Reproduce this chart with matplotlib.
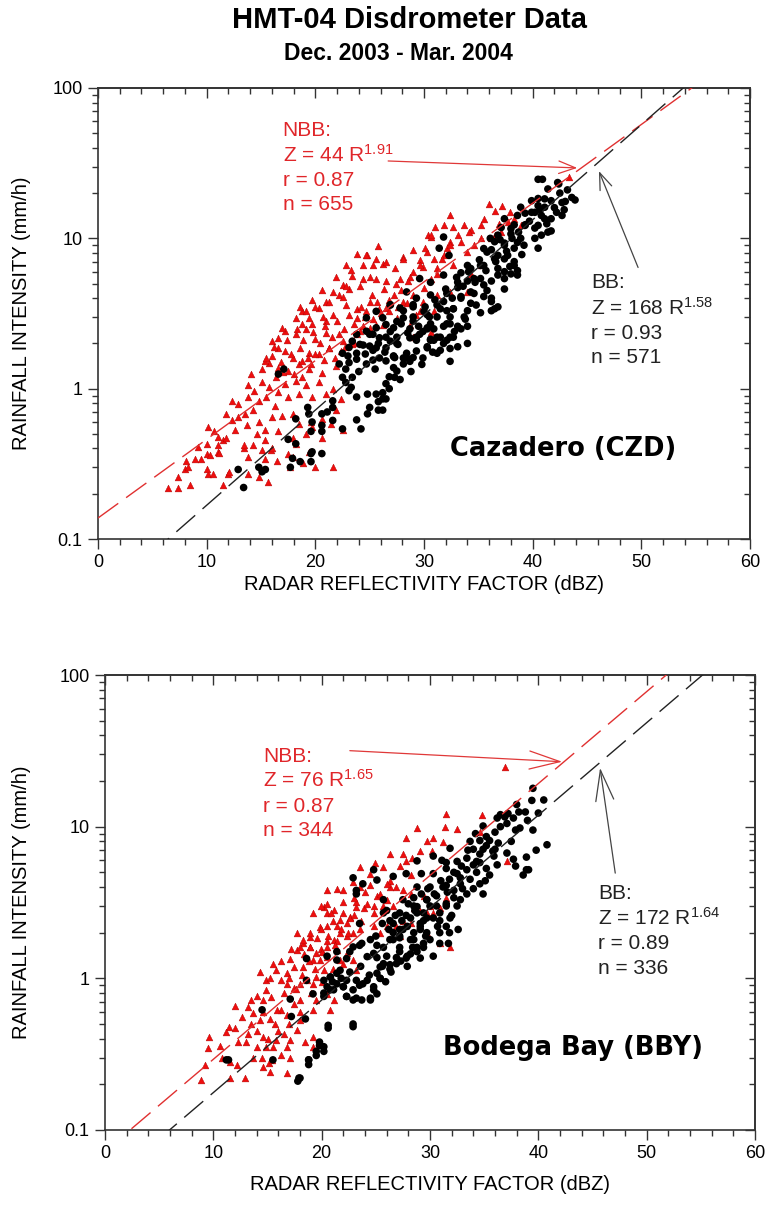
import numpy as np
import matplotlib
matplotlib.use('Agg')
import matplotlib.pyplot as plt
from matplotlib.ticker import MultipleLocator, LogLocator, FuncFormatter, NullFormatter

"""
HMT-04 disdrometer data, Dec. 2003 - Mar. 2004.
Rain rate against radar reflectivity for Cazadero (CZD) and Bodega Bay (BBY),
split into non-bright-band (NBB, red triangles) and bright-band (BB, black dots)
periods, each with its fitted Z-R power law.
"""

# (dBZ, rain rate mm/h) pairs
czd_nbb = [
    (6.4, 0.22), (7.4, 0.22), (8.5, 0.23), (11.5, 0.23), (15.6, 0.24),
    (7.4, 0.26), (10.1, 0.27), (10.6, 0.27), (12.0, 0.27), (13.8, 0.27), (14.8, 0.26),
    (8.0, 0.29), (8.3, 0.30), (10.0, 0.29), (12.1, 0.28), (16.5, 0.33), (17.7, 0.30),
    (20.0, 0.30), (21.6, 0.30), (8.1, 0.33), (8.9, 0.34), (9.5, 0.34), (11.0, 0.38),
    (13.8, 0.35), (15.4, 0.34), (17.9, 0.35), (18.9, 0.32), (10.0, 0.37), (10.3, 0.36),
    (11.1, 0.375), (13.4, 0.40), (15.1, 0.39), (15.9, 0.39), (17.5, 0.37), (19.4, 0.38),
    (9.2, 0.41), (10.0, 0.43), (11.0, 0.42), (11.5, 0.455), (13.4, 0.42), (14.3, 0.42),
    (15.4, 0.455), (16.0, 0.40), (18.2, 0.43), (20.6, 0.47),
    (10.1, 0.56), (10.7, 0.52), (11.0, 0.48), (11.8, 0.47), (12.6, 0.53), (13.7, 0.57),
    (14.6, 0.50), (15.4, 0.53), (16.6, 0.52), (17.9, 0.47), (19.1, 0.50), (19.7, 0.56),
    (21.4, 0.585), (22.5, 0.53), (11.8, 0.68), (12.3, 0.615), (12.9, 0.65), (13.5, 0.68),
    (14.3, 0.72), (14.8, 0.60), (16.0, 0.65), (16.9, 0.66), (17.9, 0.68), (18.5, 0.585),
    (19.6, 0.60), (20.6, 0.63), (21.9, 0.72), (12.3, 0.83), (12.9, 0.79), (13.8, 0.88),
    (14.8, 0.83), (15.5, 0.88), (16.3, 0.77), (17.5, 0.88), (18.5, 0.92), (19.7, 0.88),
    (21.0, 0.92), (22.4, 0.855), (13.8, 1.05), (14.4, 0.97), (15.1, 1.10), (15.7, 1.02),
    (16.6, 0.95), (17.2, 1.07), (18.2, 1.13), (19.1, 1.05), (20.3, 1.10), (21.6, 1.0),
    (14.1, 1.25), (15.1, 1.35), (15.7, 1.49), (16.6, 1.38), (17.5, 1.32), (18.5, 1.46),
    (19.4, 1.35), (20.6, 1.28), (21.9, 1.42), (16.0, 1.65), (16.6, 1.87), (17.2, 1.78),
    (17.9, 1.61), (18.6, 1.87), (19.4, 1.74), (20.3, 1.69), (21.3, 1.87), (22.4, 1.78),
    (23.4, 1.97), (16.6, 2.18), (17.2, 2.41), (18.2, 2.30), (19.1, 2.48), (20.0, 2.13),
    (21.0, 2.35), (22.2, 2.30), (24.1, 2.41), (18.8, 3.27), (19.4, 2.96), (20.3, 3.44),
    (21.0, 2.81), (21.6, 3.11), (22.8, 3.62), (23.8, 2.96), (24.7, 3.27), (25.6, 2.67),
    (26.5, 3.44),
    (25.8, 8.9), (23.8, 7.9), (24.8, 7.7), (25.6, 7.3), (26.2, 6.8), (22.8, 6.6),
    (21.9, 5.5), (23.4, 5.6), (22.5, 4.9), (20.6, 4.5), (21.6, 4.4), (22.2, 4.2),
    (23.1, 4.6), (18.6, 3.5), (19.7, 3.9), (21.0, 3.8), (24.4, 6.6), (25.0, 5.5),
    (28.7, 5.5), (29.6, 7.2), (30.3, 8.1), (30.4, 10.5),
    (32.4, 14.2), (31.0, 11.9), (32.7, 11.9), (30.6, 10.2), (29.0, 8.3), (28.1, 7.5),
    (24.7, 7.7), (26.5, 7.0), (27.3, 6.3), (25.3, 6.6), (23.3, 6.2), (24.4, 5.4),
    (25.6, 5.4), (22.8, 4.8), (24.1, 4.8), (26.5, 5.2), (27.8, 5.4), (29.0, 6.0),
    (31.2, 6.3), (31.8, 7.7), (32.4, 9.5), (33.1, 10.5), (21.3, 3.8), (22.5, 4.1),
    (20.0, 3.5), (19.1, 3.3), (18.2, 2.96), (16.9, 2.54), (16.0, 2.07), (15.4, 1.53),
    (18.8, 2.7), (19.7, 2.7), (20.7, 3.0), (23.8, 3.4), (25.0, 3.8), (25.9, 3.4),
    (27.2, 4.2), (28.1, 3.8), (29.0, 4.2), (30.0, 4.7), (30.6, 5.4), (27.5, 2.96),
    (26.2, 2.67), (25.0, 2.54), (23.8, 2.3), (22.5, 2.07), (21.3, 1.87), (20.0, 1.69),
    (18.8, 1.53), (28.7, 2.67), (29.6, 3.27),
    (36.0, 16.9), (37.2, 16.5), (36.5, 15.3), (37.9, 14.9), (37.7, 12.8), (36.9, 12.5),
    (35.5, 13.5), (34.3, 11.3), (35.2, 10.0), (36.5, 10.5), (33.4, 9.5), (32.1, 8.6),
    (30.1, 8.6), (34.0, 8.1), (31.7, 7.3), (32.7, 6.6), (29.9, 6.4), (31.2, 5.8),
    (34.3, 5.8), (35.2, 6.6), (33.1, 5.2), (34.0, 4.4), (31.2, 4.2), (32.4, 4.4),
    (29.9, 3.8), (30.9, 3.3), (29.3, 3.1), (30.6, 2.4), (29.0, 2.2),
    (31.8, 12.2), (30.6, 10.5), (33.7, 12.2), (34.1, 11.0), (35.2, 12.2), (38.3, 13.5),
    (38.9, 12.2), (37.1, 11.0), (36.2, 10.0), (34.6, 9.0), (32.4, 9.0), (30.9, 7.3),
    (29.6, 6.6), (28.1, 7.3), (43.3, 25.4),
    (15.5, 1.6), (16.2, 1.9), (16.8, 1.5), (17.4, 2.1), (17.8, 1.7), (18.3, 2.5),
    (18.9, 2.1), (19.3, 1.6), (19.8, 2.4), (20.4, 2.0), (20.9, 2.6), (21.5, 2.2),
    (22.0, 2.8), (22.6, 2.5), (23.1, 3.1), (23.6, 2.7), (24.2, 3.5), (24.6, 3.0),
    (25.2, 4.2), (25.7, 3.8), (26.3, 4.6), (26.8, 3.9), (27.4, 5.0), (27.9, 4.5),
    (28.5, 5.2), (16.4, 1.2), (17.0, 1.3), (18.0, 1.25), (18.8, 1.2), (19.6, 1.45),
    (20.8, 1.55), (21.8, 1.6), (22.7, 1.9), (23.6, 2.0), (24.4, 2.6), (25.3, 2.9),
    (26.0, 3.2), (26.8, 3.3), (27.6, 3.5), (28.4, 3.7),
]

czd_bb = [
    (13.4, 0.22), (12.9, 0.29), (14.8, 0.30), (15.4, 0.29), (15.1, 0.28), (17.7, 0.30),
    (17.9, 0.344), (18.6, 0.327), (19.6, 0.327), (19.6, 0.37), (19.7, 0.38), (20.6, 0.37),
    (17.5, 0.46), (18.2, 0.43), (18.2, 0.63), (19.3, 0.75), (19.4, 0.68), (19.7, 0.60),
    (19.6, 0.52), (20.6, 0.52), (20.6, 0.57), (20.6, 0.68), (21.6, 0.615), (21.6, 0.75),
    (21.6, 0.83), (21.1, 0.70), (22.5, 0.54), (24.2, 0.54), (25.0, 0.75), (25.8, 0.72),
    (26.2, 0.72), (26.2, 0.855), (26.5, 0.855), (25.6, 0.92), (24.8, 0.92), (23.8, 0.88),
    (23.1, 0.97), (22.8, 1.10), (23.3, 1.02), (23.4, 1.19), (22.5, 1.19), (22.8, 1.35),
    (23.1, 1.49), (22.2, 1.46), (23.0, 1.65), (23.8, 1.57), (24.7, 1.46), (25.5, 1.35),
    (26.5, 1.53), (27.2, 1.38), (27.3, 1.19), (28.1, 1.46), (29.0, 1.61), (28.4, 1.61),
    (27.3, 1.61), (26.5, 1.87), (25.6, 1.87), (25.0, 1.92), (24.1, 1.97), (25.0, 2.30),
    (25.9, 2.18), (26.9, 2.07), (27.6, 1.97), (28.7, 2.18), (29.6, 2.30), (30.3, 1.87),
    (30.6, 2.13), (29.0, 2.81), (28.1, 2.96), (27.2, 2.54), (26.5, 2.67), (25.6, 2.54),
    (24.7, 2.41), (23.8, 2.30), (23.4, 2.07), (24.7, 2.96), (25.6, 3.27), (26.9, 3.62),
    (27.8, 3.44), (29.0, 3.62), (30.0, 3.27), (30.3, 2.54), (17.1, 1.35), (16.6, 1.25),
    (40.5, 24.7), (40.9, 24.7), (42.4, 23.0), (41.4, 21.3), (43.6, 18.7), (43.9, 18.0),
    (43.0, 17.6), (41.7, 17.8), (40.5, 18.4), (41.1, 16.1), (39.9, 14.9), (40.8, 14.2),
    (41.7, 13.5), (38.6, 14.2), (39.3, 12.2), (40.5, 12.2), (41.4, 11.0), (40.8, 10.5),
    (38.0, 11.6), (36.8, 10.5), (37.4, 9.0), (38.6, 9.4), (36.1, 10.0), (35.5, 8.55),
    (36.5, 7.3), (37.7, 7.7), (38.3, 6.6), (38.0, 5.8), (37.4, 6.0), (38.6, 6.1),
    (35.2, 6.6), (34.0, 6.6), (33.4, 5.9), (34.6, 5.4), (35.5, 4.9), (36.2, 4.0),
    (36.5, 3.4), (34.3, 4.4), (33.4, 4.0), (32.7, 3.4), (34.0, 3.3), (33.7, 3.0),
    (32.4, 3.0), (31.8, 2.6), (34.0, 2.6), (33.4, 2.5), (32.7, 2.2), (31.5, 2.2),
    (30.3, 2.5), (30.9, 2.1), (29.3, 1.78), (28.1, 1.6), (28.7, 1.52), (27.2, 1.64),
    (27.5, 1.31), (26.5, 1.08), (26.8, 1.20), (26.2, 0.94),
    (42.3, 23.5), (41.1, 18.3), (39.9, 17.8), (38.9, 16.1), (40.5, 16.5), (42.7, 17.3),
    (39.3, 14.7), (40.2, 14.9), (41.1, 13.5), (42.2, 14.9), (42.7, 14.2), (37.4, 13.5),
    (38.3, 12.3), (39.3, 12.3), (40.2, 11.7), (41.7, 11.2), (37.1, 11.8), (38.0, 10.7),
    (38.9, 10.0), (36.5, 9.5), (37.4, 9.3), (38.3, 8.6), (40.5, 8.6), (35.8, 8.1),
    (36.8, 7.7), (37.4, 7.3), (38.3, 7.0), (36.8, 6.3), (35.5, 6.6), (34.3, 6.3),
    (35.2, 5.4), (36.2, 5.2), (37.4, 5.4), (38.6, 5.7), (37.4, 4.6), (34.0, 5.2),
    (33.1, 4.7), (32.1, 4.3), (33.4, 4.1), (34.6, 4.3), (35.5, 4.1), (36.2, 3.8),
    (36.8, 3.5), (31.8, 3.8), (32.7, 3.4), (34.3, 3.7), (35.2, 3.2), (36.2, 3.3),
    (31.2, 3.0), (30.6, 2.7), (32.1, 2.7), (33.1, 2.6), (29.9, 2.4), (31.2, 2.2),
    (32.1, 2.1), (34.0, 2.0), (29.3, 2.1), (30.3, 1.9), (31.5, 1.8), (32.4, 1.85),
    (31.8, 10.2), (31.4, 8.6), (32.3, 7.7), (29.6, 5.4), (30.6, 5.1), (31.8, 5.7),
    (33.1, 5.1), (28.4, 4.4), (29.3, 4.0), (30.6, 4.2), (26.9, 3.6), (28.1, 3.3),
    (29.0, 3.5), (31.2, 3.6), (32.1, 3.3), (30.3, 3.1), (26.2, 2.96), (27.5, 2.8),
    (28.7, 2.5), (30.9, 2.5), (32.4, 2.7), (25.3, 2.3), (26.5, 2.2), (27.5, 2.0),
    (29.3, 2.2), (30.6, 2.1), (32.4, 2.2), (33.1, 1.9), (24.4, 1.95), (23.8, 1.72),
    (25.3, 1.8), (25.9, 1.6), (27.2, 1.65), (28.4, 1.72), (29.9, 1.6), (31.2, 1.72),
    (32.4, 1.52), (22.5, 1.72), (23.1, 1.88),
    (24.0, 1.3), (24.6, 1.7), (25.3, 1.55), (25.8, 2.0), (26.4, 1.75), (26.9, 2.4),
    (27.5, 2.2), (27.9, 2.7), (28.5, 2.35), (29.0, 3.0), (29.5, 2.6), (30.1, 3.5),
    (30.5, 3.0), (31.0, 3.9), (31.5, 3.4), (32.0, 4.6), (32.6, 4.0), (33.0, 5.5),
    (33.6, 4.8), (34.1, 6.0), (34.7, 5.1), (35.1, 7.2), (35.7, 6.1), (36.2, 8.4),
    (36.6, 7.0), (37.0, 9.8), (37.6, 8.2), (38.1, 10.0), (38.7, 11.0), (39.2, 9.0),
    (39.7, 13.0), (40.2, 10.0), (40.7, 15.5), (41.3, 12.5), (42.0, 16.0), (42.5, 20.0),
    (43.2, 21.0), (42.9, 15.5), (39.0, 7.8), (37.9, 6.5), (36.8, 5.7), (35.8, 4.5),
    (34.8, 3.6), (33.8, 2.9), (32.8, 2.4), (31.8, 2.0), (30.8, 1.75), (29.8, 1.45),
    (28.8, 1.3), (27.8, 1.15), (26.8, 1.0), (25.8, 0.82), (24.8, 0.68), (23.8, 0.62),
]

bby_nbb = [
    (8.9, 0.213), (9.2, 0.268), (9.6, 0.41), (9.5, 0.345), (10.6, 0.36), (10.8, 0.30),
    (11.4, 0.48), (11.2, 0.44), (12.0, 0.47), (12.3, 0.38), (11.5, 0.28), (12.2, 0.27),
    (11.5, 0.22), (12.9, 0.22), (12.0, 0.66), (12.6, 0.56),
    (13.2, 0.65), (13.5, 0.72), (14.0, 0.76), (13.7, 0.59), (13.5, 0.50), (13.2, 0.43),
    (14.3, 0.53), (14.6, 0.41), (14.9, 0.354), (14.0, 0.354), (14.5, 0.30), (13.7, 0.30),
    (15.1, 0.275), (14.6, 0.26), (15.4, 0.29), (15.2, 0.24), (16.8, 0.236), (16.2, 0.31),
    (17.1, 0.30), (15.5, 0.354), (16.5, 0.43), (15.8, 0.39), (15.7, 0.50), (15.2, 0.54),
    (16.2, 0.62), (16.8, 0.57), (14.9, 0.84), (14.6, 0.72), (14.3, 1.10), (14.9, 0.97),
    (15.5, 1.25), (15.8, 1.13), (16.2, 0.97), (16.8, 1.08), (16.8, 0.92), (17.4, 0.86),
    (18.0, 0.92), (17.1, 1.35), (17.4, 1.19), (18.3, 1.19), (17.7, 1.53), (18.3, 1.70),
    (18.9, 1.88), (18.9, 1.61), (19.5, 1.46), (19.8, 1.32), (19.2, 1.32), (18.6, 0.97),
    (19.2, 0.92), (19.5, 1.02), (20.2, 1.13), (20.5, 1.39), (20.5, 1.61), (21.1, 1.79),
    (21.7, 1.98), (19.8, 2.19), (20.5, 2.68), (21.1, 2.82), (20.2, 2.97), (21.7, 2.42),
    (22.3, 2.30), (22.9, 1.98), (22.6, 2.55), (23.2, 2.97), (21.4, 1.53), (21.7, 1.32),
    (22.3, 1.46), (22.9, 1.32), (23.2, 1.13), (18.0, 0.72), (19.2, 0.62), (19.5, 0.72),
    (20.8, 0.62), (21.1, 0.72), (20.5, 0.79), (17.4, 0.68), (18.0, 0.53), (17.7, 0.455),
    (19.2, 0.41), (19.2, 0.354), (18.5, 0.38), (17.1, 0.39), (16.8, 0.354),
    (31.5, 12.2), (31.4, 10.0), (32.5, 9.7), (28.8, 9.8), (27.8, 8.4), (30.3, 8.4),
    (29.7, 8.0), (31.2, 7.9), (30.2, 6.9), (27.5, 6.6), (28.3, 6.2), (29.1, 6.9),
    (26.3, 6.6), (25.7, 5.4), (24.9, 5.8), (24.5, 4.9), (23.5, 4.0), (27.2, 5.5),
    (27.8, 5.9), (28.2, 4.8), (26.3, 4.4), (26.9, 4.0), (27.5, 3.8), (22.9, 4.3),
    (22.0, 3.8), (21.4, 3.9), (20.5, 3.8), (23.5, 5.4), (24.5, 4.1), (25.1, 3.5),
    (26.0, 3.3), (25.7, 3.0), (26.6, 3.0), (24.8, 3.0), (23.9, 2.9), (23.2, 3.2),
    (20.5, 3.1), (19.9, 3.0), (19.2, 2.7), (20.9, 2.7), (22.0, 2.7), (22.6, 2.5),
    (21.4, 2.2), (20.5, 2.2), (19.9, 2.1), (18.9, 2.0), (18.3, 1.8), (17.7, 2.0),
    (18.0, 1.6), (18.9, 1.6), (19.9, 1.55), (20.5, 1.75), (21.4, 1.75), (22.3, 1.9),
    (23.5, 2.1), (24.8, 2.2), (25.4, 2.0), (26.0, 2.2), (26.9, 2.2), (27.5, 2.4),
    (29.1, 2.8), (30.0, 3.0), (30.3, 2.7), (30.9, 2.9), (31.5, 3.4),
    (36.9, 24.9), (34.8, 11.9), (34.6, 9.2), (37.1, 5.9), (26.3, 4.0), (28.2, 3.6),
    (29.4, 3.5), (28.5, 2.9), (29.7, 2.7), (28.2, 2.3), (29.1, 2.2), (29.7, 2.0),
    (31.8, 1.6), (30.9, 1.7), (27.2, 1.9),
    (14.0, 0.45), (14.6, 0.6), (15.3, 0.75), (15.9, 0.62), (16.5, 0.8), (17.0, 1.0),
    (17.6, 0.85), (18.2, 1.05), (18.8, 1.3), (19.4, 1.15), (20.0, 1.5), (20.6, 1.9),
    (21.2, 1.65), (21.8, 2.1), (22.4, 2.0), (23.0, 2.6), (23.6, 2.4), (24.2, 3.1),
    (24.8, 2.7), (25.4, 3.6), (26.0, 4.2), (22.0, 1.25), (21.0, 1.15), (20.0, 0.95),
    (19.0, 0.8), (18.0, 0.6), (17.0, 0.5), (16.0, 0.45), (15.0, 0.4), (13.0, 0.38),
    (24.0, 3.7), (23.0, 3.4), (22.0, 3.2), (21.0, 2.4), (19.6, 1.85), (18.4, 1.45),
    (17.2, 1.55), (16.2, 1.3), (15.2, 1.0),
]

bby_bb = [
    (11.4, 0.29), (14.5, 0.62), (17.1, 0.73), (17.2, 0.56), (18.5, 0.54), (15.5, 0.29),
    (11.2, 0.29), (17.8, 0.21), (17.9, 0.22), (18.8, 0.29), (18.8, 0.27), (19.5, 0.31),
    (19.8, 0.36), (20.2, 0.33), (20.6, 0.49), (20.6, 0.47), (22.9, 0.48), (19.8, 0.38),
    (20.2, 0.354), (19.5, 0.33), (18.8, 0.29), (18.0, 0.22), (22.9, 0.50),
    (20.2, 0.97), (20.5, 0.88), (20.8, 1.02), (21.1, 0.84), (21.4, 0.92), (22.0, 0.88),
    (22.3, 0.76), (22.9, 0.72), (23.7, 0.72), (24.5, 0.72), (22.9, 0.84), (23.5, 0.90),
    (24.2, 0.97), (24.8, 0.84), (25.1, 1.08), (25.4, 1.19), (24.2, 1.39), (24.8, 1.46),
    (23.7, 1.70), (23.5, 2.30), (22.9, 1.61), (22.3, 1.35), (21.4, 1.32), (21.7, 1.13),
    (20.2, 0.76), (19.2, 0.79), (18.6, 0.97), (18.6, 1.35),
    (23.2, 3.6), (23.8, 4.2), (25.7, 3.3), (25.7, 2.7), (26.3, 2.4), (27.2, 2.1),
    (27.8, 2.6), (28.8, 2.97), (29.4, 2.7), (29.1, 2.3), (26.6, 1.8), (27.2, 1.5),
    (28.2, 1.45), (28.8, 1.6), (29.4, 1.7), (26.9, 1.25), (27.9, 1.2), (25.1, 1.37),
    (25.7, 1.25), (26.3, 1.15), (25.4, 1.0), (24.8, 0.88), (23.8, 0.92), (23.2, 0.97),
    (22.3, 0.97), (22.0, 0.88), (22.3, 0.76), (23.2, 0.74), (24.5, 0.74), (25.1, 0.79),
    (20.8, 1.02), (21.4, 1.08), (20.2, 0.80), (20.8, 0.84),
    (31.85, 7.2), (30.3, 6.4), (31.1, 6.0), (28.8, 5.95), (27.8, 4.9), (29.2, 4.9),
    (30.3, 4.9), (26.6, 4.7), (25.1, 4.45), (23.2, 3.8), (24.8, 5.2), (31.5, 5.8),
    (28.8, 4.0), (30.0, 4.0), (31.2, 4.0), (32.2, 3.8), (27.5, 3.3), (28.5, 3.4),
    (29.7, 3.3), (30.6, 3.0), (31.5, 3.1), (32.5, 3.0), (26.0, 2.8), (27.2, 2.7),
    (28.8, 2.7), (29.7, 2.5), (30.9, 2.4), (31.85, 2.5), (26.6, 2.3), (27.9, 2.2),
    (29.1, 2.1), (27.2, 1.9), (28.5, 1.8), (29.7, 2.0), (30.9, 2.0), (31.7, 1.7),
    (24.5, 1.8), (25.1, 1.65), (23.5, 1.65), (22.6, 1.5), (21.4, 1.5), (20.5, 1.4),
    (30.3, 1.4), (29.1, 1.36), (27.8, 1.36), (22.9, 4.6),
    (39.5, 17.9), (40.5, 15.0), (39.4, 14.9), (38.8, 12.5), (38.2, 12.5), (37.2, 12.2),
    (36.5, 12.0), (37.1, 10.5), (37.9, 9.5), (39.5, 9.5), (40.8, 7.6), (39.8, 7.0),
    (38.9, 6.3), (39.1, 5.2), (37.9, 5.5), (37.7, 6.1), (37.1, 6.7), (36.3, 7.8),
    (35.5, 8.1), (34.6, 8.1), (33.7, 8.0), (34.9, 7.1), (34.0, 7.1), (36.0, 7.1),
    (35.9, 6.4), (34.6, 5.8), (35.2, 5.3), (34.3, 5.0), (33.4, 5.2), (32.9, 5.5),
    (32.5, 5.9), (36.2, 5.6), (35.5, 4.8), (35.1, 4.4), (34.6, 4.2), (34.9, 3.6),
    (33.7, 4.5), (32.8, 4.2), (32.5, 4.9), (31.8, 4.5), (31.5, 4.1), (33.4, 3.6),
    (34.0, 3.9), (32.8, 3.3), (32.2, 3.4), (31.5, 3.0), (30.9, 2.7), (30.0, 3.0),
    (30.3, 2.5), (29.4, 2.4), (29.7, 3.3), (30.6, 3.5), (31.5, 5.3), (28.5, 3.0),
    (28.2, 2.5), (27.5, 2.1), (26.6, 2.0), (27.2, 1.85), (26.3, 1.8), (25.7, 1.6),
    (26.0, 1.4), (28.5, 2.0), (29.1, 2.2), (30.0, 1.8), (30.9, 1.7), (29.4, 1.6),
    (28.8, 1.5), (27.9, 1.4), (26.9, 1.37), (26.3, 1.23), (25.4, 1.0), (25.9, 0.95),
    (27.2, 1.6), (28.2, 1.8), (31.5, 2.2), (31.8, 2.0), (32.6, 2.1), (34.3, 5.9),
    (34.9, 10.1), (35.2, 8.6), (36.5, 10.0), (36.9, 11.6), (36.2, 11.4), (37.7, 11.4),
    (38.6, 4.8), (38.9, 5.2),
    (25.0, 1.9), (25.6, 2.3), (26.2, 2.1), (26.8, 2.6), (27.4, 2.4), (28.0, 3.1),
    (28.6, 2.8), (29.2, 3.6), (29.8, 3.9), (30.4, 3.6), (31.0, 4.4), (31.6, 3.7),
    (32.2, 5.0), (32.8, 4.6), (33.4, 6.2), (34.0, 5.6), (34.6, 6.6), (35.2, 7.5),
    (35.8, 6.9), (33.0, 3.9), (32.0, 2.6), (30.7, 2.2), (29.6, 1.9), (28.4, 1.6),
    (27.3, 1.3), (26.4, 1.1), (25.6, 1.2), (24.4, 1.05), (23.6, 1.2), (22.6, 1.1),
    (21.8, 1.0), (21.0, 0.95), (33.5, 7.0), (34.2, 9.0), (36.0, 9.2), (37.5, 8.0),
    (38.3, 9.8), (39.0, 11.0), (38.0, 14.0), (40.0, 12.3),
]

# fitted Z = a R^b relations (a, b)
czd_nbb_fit = (44, 1.91)
czd_bb_fit = (168, 1.58)
bby_nbb_fit = (76, 1.65)
bby_bb_fit = (172, 1.64)

RED = '#ee0e0e'
RED_TXT = '#e0262a'
W, H = 765, 1214

plt.rcParams['font.family'] = ['Liberation Sans', 'DejaVu Sans']
plt.rcParams['mathtext.fontset'] = 'custom'
plt.rcParams['mathtext.rm'] = 'Liberation Sans'
plt.rcParams['mathtext.it'] = 'Liberation Sans'


def fit_line(a, b, dbz):
    # invert Z = a R^b with Z in mm^6/m^3 (dBZ = 10 log10 Z)
    return (10 ** (dbz / 10.0) / a) ** (1.0 / b)


def style_axes(ax):
    ax.set_xlim(0, 60)
    ax.set_yscale('log')
    ax.set_ylim(0.1, 100)
    ax.xaxis.set_major_locator(MultipleLocator(10))
    ax.xaxis.set_minor_locator(MultipleLocator(2))
    ax.yaxis.set_major_locator(LogLocator(base=10, numticks=10))
    ax.yaxis.set_minor_locator(LogLocator(base=10, subs=np.arange(2, 10), numticks=10))
    ax.yaxis.set_major_formatter(FuncFormatter(lambda v, p: f'{v:g}'))
    ax.yaxis.set_minor_formatter(NullFormatter())
    ax.tick_params(which='both', direction='out', top=False, right=False,
                   labelsize=13, width=1.0, color='#333333')
    ax.tick_params(which='major', length=7, pad=4)
    ax.tick_params(which='minor', length=4)
    for sp in ax.spines.values():
        sp.set_linewidth(1.2)
        sp.set_color('#333333')

    # mirrored ticks on top and right point into the plot
    top = ax.secondary_xaxis('top')
    top.xaxis.set_major_locator(MultipleLocator(10))
    top.xaxis.set_minor_locator(MultipleLocator(2))
    top.tick_params(which='both', direction='in', labeltop=False, width=1.0, color='#333333')
    top.tick_params(which='major', length=7)
    top.tick_params(which='minor', length=4)
    right = ax.secondary_yaxis('right')
    right.yaxis.set_major_locator(LogLocator(base=10, numticks=10))
    right.yaxis.set_minor_locator(LogLocator(base=10, subs=np.arange(2, 10), numticks=10))
    right.yaxis.set_major_formatter(NullFormatter())
    right.yaxis.set_minor_formatter(NullFormatter())
    right.tick_params(which='both', direction='in', labelright=False, width=1.0, color='#333333')
    right.tick_params(which='major', length=7)
    right.tick_params(which='minor', length=4)
    for s in (top, right):
        for sp in s.spines.values():
            sp.set_linewidth(1.2)
            sp.set_color('#333333')


def draw_panel(ax, nbb, bb, nbb_fit, bb_fit, nbb_txt, bb_txt, site,
               nbb_pos, bb_pos, site_pos, nbb_arrow, bb_arrow, head):
    nbb = np.array(nbb)
    bb = np.array(bb)
    ax.scatter(nbb[:, 0], nbb[:, 1], marker='^', s=24, color=RED,
               edgecolors='#b00000', linewidths=0.3, zorder=2)
    ax.scatter(bb[:, 0], bb[:, 1], marker='o', s=30, color='black',
               edgecolors='none', zorder=2)

    dbz = np.linspace(0, 60, 300)
    ax.plot(dbz, fit_line(*nbb_fit, dbz), color='#e03030', lw=1.0,
            dashes=(18, 7), zorder=3)
    ax.plot(dbz, fit_line(*bb_fit, dbz), color='#222222', lw=1.0,
            dashes=(18, 7), zorder=3)

    # stacked annotation lines, given as (x, baseline y) in data units
    x0, ys = nbb_pos
    for line, y in zip(nbb_txt, ys):
        ax.text(x0, y, line, color=RED_TXT, fontsize=15, va='baseline', ha='left')
    x0, ys = bb_pos
    for line, y in zip(bb_txt, ys):
        ax.text(x0, y, line, color='#222222', fontsize=15, va='baseline', ha='left')

    ax.text(site_pos[0], site_pos[1], site, fontsize=18.5, fontweight='bold',
            family='DejaVu Sans', va='baseline', ha='left')

    hl, hw = head
    style = f'->,head_length={hl},head_width={hw}'
    ax.annotate('', xy=nbb_arrow[1], xytext=nbb_arrow[0],
                arrowprops=dict(arrowstyle=style, color='#e03838', lw=0.9,
                                shrinkA=0, shrinkB=0))
    ax.annotate('', xy=bb_arrow[1], xytext=bb_arrow[0],
                arrowprops=dict(arrowstyle=style, color='#444444', lw=0.9,
                                shrinkA=0, shrinkB=0))
    style_axes(ax)


fig = plt.figure(figsize=(W / 100, H / 100), dpi=100)

ax1 = fig.add_axes([98 / W, 1 - 539 / H, 652 / W, 451 / H])
draw_panel(ax1, czd_nbb, czd_bb, czd_nbb_fit, czd_bb_fit,
           ['NBB:', 'Z = 44 R$^{1.91}$', 'r = 0.87', 'n = 655'],
           ['BB:', 'Z = 168 R$^{1.58}$', 'r = 0.93', 'n = 571'],
           'Cazadero (CZD)',
           (17.0, (48, 32.5, 22.3, 15.4)),
           (45.4, (4.67, 3.09, 2.14, 1.48)),
           (32.4, 0.356),
           ((26.7, 32.7), (44.1, 29.4)),
           ((49.7, 6.4), (46.1, 28.0)),
           (1.2, 0.45))

ax2 = fig.add_axes([105 / W, 1 - 1130 / H, 650 / W, 455 / H])
draw_panel(ax2, bby_nbb, bby_bb, bby_nbb_fit, bby_bb_fit,
           ['NBB:', 'Z = 76 R$^{1.65}$', 'r = 0.87', 'n = 344'],
           ['BB:', 'Z = 172 R$^{1.64}$', 'r = 0.89', 'n = 336'],
           'Bodega Bay (BBY)',
           (14.6, (26.8, 18.2, 12.5, 8.67)),
           (45.5, (3.33, 2.24, 1.56, 1.07)),
           (31.2, 0.311),
           ((22.6, 31.7), (42.2, 26.8)),
           ((47.1, 4.94), (45.7, 24.4)),
           (2.2, 0.65))

# titles and axis labels
fig.text(410 / W, 1 - 20 / H, 'HMT-04 Disdrometer Data', fontsize=21,
         fontweight='bold', ha='center', va='center')
fig.text(398 / W, 1 - 53 / H, 'Dec. 2003 - Mar. 2004', fontsize=16.5,
         fontweight='bold', ha='center', va='center')
for top_px, bot_px, left_px, right_px, xlab_px in ((88, 539, 98, 750, 585),
                                                   (675, 1130, 105, 755, 1184)):
    fig.text(22 / W, 1 - (top_px + bot_px) / 2 / H, 'RAINFALL INTENSITY (mm/h)',
             fontsize=14.5, rotation=90, ha='center', va='center')
    fig.text((left_px + right_px) / 2 / W, 1 - xlab_px / H,
             'RADAR REFLECTIVITY FACTOR (dBZ)', fontsize=14.5,
             ha='center', va='center')

fig.savefig('out.png', dpi=100)
